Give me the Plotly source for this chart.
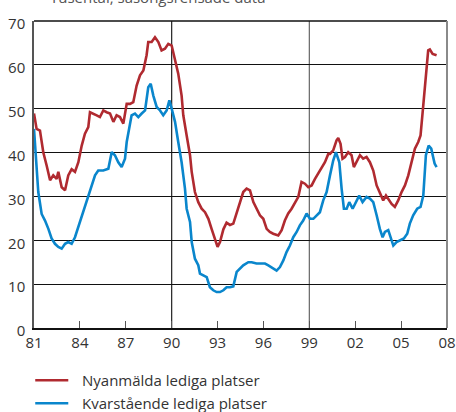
import plotly.graph_objects as go

# Nyanmälda lediga platser (tusental)
red_years = [1981.0, 1981.17, 1981.39, 1981.61, 1981.83, 1982.05, 1982.26, 1982.48, 1982.59, 1982.81,
             1983.03, 1983.24, 1983.46, 1983.68, 1983.90, 1984.12, 1984.33, 1984.55, 1984.66, 1984.88,
             1985.10, 1985.31, 1985.53, 1985.75, 1985.97, 1986.19, 1986.40, 1986.62, 1986.84, 1987.06,
             1987.28, 1987.49, 1987.71, 1987.93, 1988.15, 1988.36, 1988.47, 1988.69, 1988.91, 1989.13,
             1989.34, 1989.56, 1989.78, 1990.00, 1990.22, 1990.43, 1990.65, 1990.76, 1990.98, 1991.20,
             1991.31, 1991.52, 1991.74, 1991.96, 1992.18, 1992.40, 1992.61, 1992.83, 1993.00, 1993.16,
             1993.38, 1993.59, 1993.81, 1994.03, 1994.25, 1994.46, 1994.68, 1994.90, 1995.12, 1995.34,
             1995.55, 1995.77, 1995.99, 1996.21, 1996.42, 1996.64, 1996.97, 1997.19, 1997.40, 1997.62,
             1997.84, 1998.06, 1998.28, 1998.49, 1998.71, 1998.93, 1999.15, 1999.37, 1999.58, 1999.80,
             2000.02, 2000.24, 2000.35, 2000.56, 2000.78, 2000.89, 2001.04, 2001.17, 2001.33, 2001.54,
             2001.76, 2001.91, 2002.09, 2002.31, 2002.52, 2002.74, 2002.96, 2003.18, 2003.40, 2003.61,
             2003.83, 2004.01, 2004.22, 2004.38, 2004.59, 2004.81, 2005.03, 2005.25, 2005.47, 2005.68,
             2005.90, 2006.12, 2006.27, 2006.45, 2006.62, 2006.77, 2006.88, 2007.06, 2007.32]
red_values = [48.9, 45.4, 45.0, 40.0, 37.0, 33.7, 34.8, 34.0, 35.6, 32.1,
              31.4, 34.8, 36.2, 35.6, 37.8, 41.6, 44.3, 45.8, 49.2, 48.9,
              48.5, 48.1, 49.6, 49.2, 48.9, 47.0, 48.5, 48.1, 46.6, 51.1,
              51.1, 51.5, 55.3, 57.6, 58.7, 62.2, 65.2, 65.2, 66.3, 65.2,
              63.3, 63.7, 64.8, 64.4, 61.4, 58.0, 53.0, 48.5, 43.9, 39.4,
              35.6, 31.0, 28.7, 27.2, 26.4, 24.9, 22.6, 20.4, 18.5, 19.6,
              22.5, 24.0, 23.5, 23.8, 26.4, 28.7, 31.0, 31.8, 31.4, 28.7,
              27.2, 25.7, 24.9, 22.6, 21.9, 21.5, 21.1, 22.3, 24.5, 26.1,
              27.2, 28.7, 29.9, 33.3, 32.9, 32.1, 32.5, 34.0, 35.2, 36.3,
              37.8, 39.7, 39.7, 40.5, 42.8, 43.3, 42.0, 38.6, 39.0, 40.1,
              39.4, 36.7, 37.8, 39.4, 38.6, 39.0, 37.8, 35.9, 32.5, 31.0,
              29.1, 30.2, 29.1, 28.3, 27.6, 29.1, 31.0, 32.5, 34.8, 37.8,
              40.9, 42.4, 43.9, 50.8, 58.4, 63.3, 63.5, 62.5, 62.2]

# Kvarstående lediga platser (tusental)
blue_years = [1981.0, 1981.1, 1981.2, 1981.28, 1981.50, 1981.72, 1981.94, 1982.15, 1982.37, 1982.59,
              1982.81, 1983.03, 1983.24, 1983.46, 1983.68, 1983.90, 1984.12, 1984.33, 1984.55, 1984.77,
              1984.99, 1985.20, 1985.53, 1985.86, 1986.08, 1986.29, 1986.51, 1986.73, 1986.95, 1987.06,
              1987.28, 1987.38, 1987.60, 1987.82, 1988.04, 1988.26, 1988.47, 1988.63, 1988.80, 1989.02,
              1989.24, 1989.45, 1989.67, 1989.85, 1990.00, 1990.22, 1990.43, 1990.65, 1990.87, 1990.98,
              1991.20, 1991.31, 1991.52, 1991.74, 1991.85, 1992.07, 1992.29, 1992.50, 1992.72, 1992.94,
              1993.16, 1993.38, 1993.59, 1993.81, 1994.03, 1994.25, 1994.46, 1994.68, 1995.01, 1995.23,
              1995.55, 1995.88, 1996.10, 1996.32, 1996.53, 1996.86, 1997.08, 1997.30, 1997.51, 1997.73,
              1997.95, 1998.17, 1998.38, 1998.60, 1998.82, 1999.04, 1999.26, 1999.47, 1999.69, 1999.91,
              2000.13, 2000.35, 2000.56, 2000.74, 2000.96, 2001.11, 2001.26, 2001.44, 2001.61, 2001.83,
              2002.05, 2002.26, 2002.48, 2002.74, 2002.96, 2003.18, 2003.40, 2003.61, 2003.79, 2003.94,
              2004.16, 2004.31, 2004.49, 2004.70, 2004.92, 2005.18, 2005.40, 2005.57, 2005.79, 2006.05,
              2006.27, 2006.45, 2006.62, 2006.80, 2006.97, 2007.10, 2007.19, 2007.32]
blue_values = [45.4, 40.0, 33.0, 31.0, 26.0, 24.5, 22.6, 20.4, 19.2, 18.5,
               18.1, 19.2, 19.6, 19.2, 20.7, 23.0, 25.7, 27.6, 30.2, 32.5,
               34.8, 35.9, 35.9, 36.3, 40.1, 39.4, 37.8, 36.7, 38.6, 42.4,
               46.2, 48.5, 48.9, 48.1, 48.9, 49.6, 54.9, 55.7, 53.0, 50.4,
               49.6, 48.5, 49.6, 51.9, 50.0, 47.0, 42.4, 37.8, 31.8, 27.2,
               24.2, 19.6, 15.8, 14.3, 12.4, 12.0, 11.6, 9.3, 8.6, 8.2,
               8.2, 8.6, 9.3, 9.3, 9.5, 12.8, 13.5, 14.3, 15.0, 15.0,
               14.7, 14.7, 14.7, 14.3, 13.9, 13.1, 13.9, 15.4, 17.3, 18.8,
               20.7, 21.9, 23.4, 24.5, 26.1, 24.9, 24.9, 25.7, 26.4, 29.1,
               31.0, 34.8, 38.2, 40.1, 37.8, 31.8, 27.2, 27.2, 28.7, 27.2,
               28.7, 30.2, 28.7, 29.9, 29.5, 28.7, 25.7, 22.6, 20.7, 21.9,
               22.3, 20.7, 18.8, 19.6, 20.0, 20.4, 21.5, 23.8, 25.7, 27.2,
               27.6, 30.2, 39.4, 41.6, 40.9, 39.0, 37.5, 36.7]

series_names = ["Nyanmälda lediga platser", "Kvarstående lediga platser"]
tick_years = [1981, 1984, 1987, 1990, 1993, 1996, 1999, 2002, 2005, 2008]
tick_labels = ["81", "84", "87", "90", "93", "96", "99", "02", "05", "08"]
y_ticks = [0, 10, 20, 30, 40, 50, 60, 70]
divider_years = [1990, 1999]

RED = "#B02A30"
BLUE = "#0A86CC"
TEXT = "#333333"
FONT = "Open Sans"
colors = [RED, BLUE]

fig = go.Figure()
fig.add_trace(go.Scatter(x=red_years, y=red_values, mode="lines", name=series_names[0],
                         line=dict(color=RED, width=2.6), showlegend=False))
fig.add_trace(go.Scatter(x=blue_years, y=blue_values, mode="lines", name=series_names[1],
                         line=dict(color=BLUE, width=2.6), showlegend=False))

shapes = []
for yr, col in zip(divider_years, ["#222222", "#666666"]):
    shapes.append(dict(type="line", xref="x", yref="paper", x0=yr, x1=yr, y0=0, y1=1,
                       line=dict(color=col, width=1.2), layer="below"))
# top and right frame
shapes.append(dict(type="line", xref="paper", yref="paper", x0=0, x1=1, y0=1, y1=1,
                   line=dict(color="#111111", width=1.3)))
shapes.append(dict(type="line", xref="paper", yref="paper", x0=1, x1=1, y0=0, y1=1,
                   line=dict(color="#8a8a8a", width=2)))

# title (partly above the visible area, as in the reference) and legend below the plot
annotations = [dict(text="Tusental, säsongsrensade data", xref="paper", yref="paper",
                    x=0.034, y=1.039, xanchor="left", yanchor="bottom", showarrow=False,
                    font=dict(family=FONT, size=15, color="#555555"))]
leg_y = [-0.17, -0.245]
for name, col, ly in zip(series_names, colors, leg_y):
    shapes.append(dict(type="line", xref="paper", yref="paper", x0=0.003, x1=0.083, y0=ly, y1=ly,
                       line=dict(color=col, width=2.6)))
    annotations.append(dict(text=name, xref="paper", yref="paper", x=0.111, y=ly,
                            xanchor="left", yanchor="middle", showarrow=False,
                            font=dict(family=FONT, size=15, color=TEXT)))

fig.update_layout(
    width=456, height=412,
    margin=dict(l=34, r=9, t=21, b=84),
    paper_bgcolor="white", plot_bgcolor="white",
    font=dict(family=FONT, size=15, color=TEXT),
    shapes=shapes,
    annotations=annotations,
    showlegend=False,
)
fig.update_xaxes(range=[1981, 2008], tickmode="array", tickvals=tick_years, ticktext=tick_labels,
                 showgrid=False, zeroline=False, showline=True, linecolor="#111111", linewidth=2,
                 ticks="inside", ticklen=7, tickcolor="#555555", tickwidth=1, automargin=False,
                 tickfont=dict(family=FONT, size=15, color=TEXT))
fig.update_yaxes(range=[0, 70], tickmode="array", tickvals=y_ticks,
                 showgrid=True, gridcolor="#111111", gridwidth=1.2, zeroline=False,
                 showline=True, linecolor="#555555", linewidth=1.5, ticks="",
                 ticklabelshift=3, ticklabelstandoff=4, automargin=False,
                 tickfont=dict(family=FONT, size=15, color=TEXT))

fig.write_html("out.html", config={"displayModeBar": False},
               post_script="document.body.style.margin='0';document.body.style.overflow='hidden';")
